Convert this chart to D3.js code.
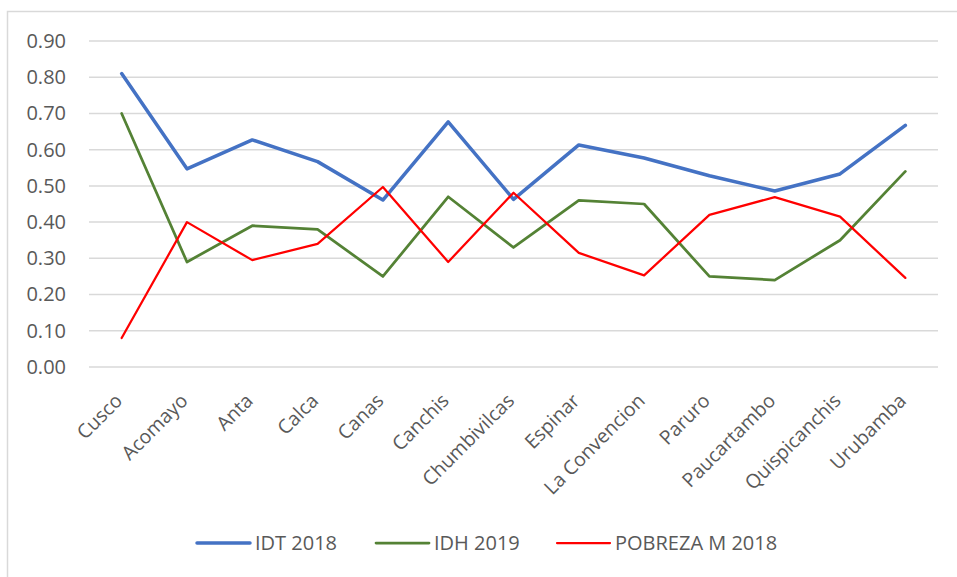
<!DOCTYPE html>
<html>
<head>
<meta charset="utf-8">
<script src="https://cdn.jsdelivr.net/npm/d3@7"></script>
<style>
  body { margin: 0; background: #fff; }
  text { font-family: "Open Sans", Lato, sans-serif; fill: #595959; }
</style>
</head>
<body>
<svg id="chart" width="957" height="577"></svg>
<script>
var provinces = ["Cusco", "Acomayo", "Anta", "Calca", "Canas", "Canchis", "Chumbivilcas",
  "Espinar", "La Convencion", "Paruro", "Paucartambo", "Quispicanchis", "Urubamba"];
var idt2018 = [0.81, 0.547, 0.627, 0.567, 0.461, 0.677, 0.463, 0.613, 0.577, 0.528, 0.486, 0.533, 0.667];
var idh2019 = [0.70, 0.29, 0.39, 0.38, 0.25, 0.47, 0.33, 0.46, 0.45, 0.25, 0.24, 0.35, 0.54];
var pobreza2018 = [0.08, 0.40, 0.295, 0.34, 0.497, 0.29, 0.481, 0.315, 0.253, 0.42, 0.469, 0.415, 0.246];
var yTicks = [0, 0.1, 0.2, 0.3, 0.4, 0.5, 0.6, 0.7, 0.8, 0.9];

var series = [
  { name: "IDT 2018", values: idt2018, color: "#4472C4", width: 3.5 },
  { name: "IDH 2019", values: idh2019, color: "#548235", width: 2.75 },
  { name: "POBREZA M 2018", values: pobreza2018, color: "#FF0000", width: 2.25 }
];

var svg = d3.select("#chart");

// outer chart frame (runs off the right/bottom like the original)
svg.append("rect")
  .attr("x", 7.5).attr("y", 11.5)
  .attr("width", 1000).attr("height", 700)
  .attr("fill", "none")
  .attr("stroke", "#d9d9d9")
  .attr("stroke-width", 1.5);

// plot area bounds
var plotLeft = 89, plotRight = 938, plotTop = 41, plotBottom = 367;

var x = d3.scalePoint()
  .domain(provinces)
  .range([plotLeft, plotRight])
  .padding(0.5);

var y = d3.scaleLinear()
  .domain([0, 0.9])
  .range([plotBottom, plotTop]);

// gridlines
svg.append("g")
  .selectAll("line")
  .data(yTicks)
  .join("line")
  .attr("x1", plotLeft).attr("x2", plotRight)
  .attr("y1", d => y(d)).attr("y2", d => y(d))
  .attr("stroke", "#d9d9d9")
  .attr("stroke-width", 1.5);

// y axis labels
var leftAxis = d3.axisLeft(y).tickValues(yTicks).tickFormat(d3.format(".2f")).tickSize(0).tickPadding(0);
svg.append("g")
  .attr("transform", "translate(66,0)")
  .call(leftAxis)
  .call(g => g.select(".domain").remove())
  .selectAll("text")
  .attr("font-family", "'Open Sans', sans-serif")
  .style("font-size", "20px")
  .attr("fill", "#595959");

// x labels, rotated
svg.append("g")
  .selectAll("text")
  .data(provinces)
  .join("text")
  .attr("transform", d => "translate(" + (x(d) + 2) + ",402)rotate(-45)")
  .attr("text-anchor", "end")
  .style("font-size", "19.5px")
  .text(d => d);

// lines
var line = d3.line()
  .x((d, i) => x(provinces[i]))
  .y(d => y(d));

series.forEach(function (s) {
  svg.append("path")
    .datum(s.values)
    .attr("d", line)
    .attr("fill", "none")
    .attr("stroke", s.color)
    .attr("stroke-width", s.width)
    .attr("stroke-linejoin", "round")
    .attr("stroke-linecap", "round");
});

// legend
var legendX = [197, 376, 557];
var legend = svg.append("g");
series.forEach(function (s, i) {
  legend.append("line")
    .attr("x1", legendX[i]).attr("x2", legendX[i] + 53)
    .attr("y1", 543).attr("y2", 543)
    .attr("stroke", s.color)
    .attr("stroke-width", s.width)
    .attr("stroke-linecap", "round");
  legend.append("text")
    .attr("x", legendX[i] + 58)
    .attr("y", 543)
    .attr("dy", "0.36em")
    .style("font-size", "20px")
    .text(s.name);
});
</script>
</body>
</html>
